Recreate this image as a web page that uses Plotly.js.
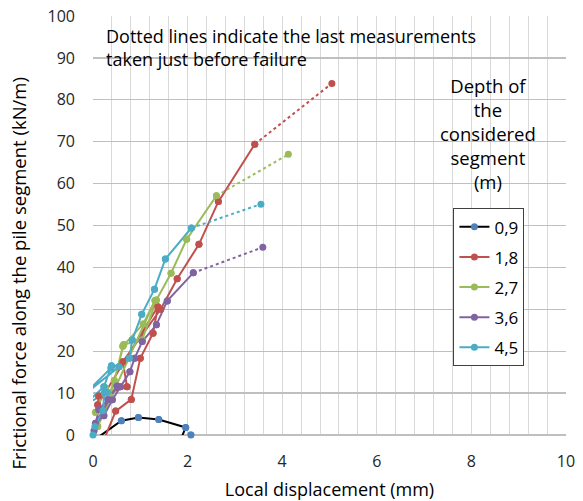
<!DOCTYPE html>
<html>
<head>
<meta charset="utf-8">
<script src="https://cdn.plot.ly/plotly-3.0.1.min.js"></script>
<style>html,body{margin:0;padding:0;background:#fff;}#chart{width:583px;height:501px;}</style>
</head>
<body>
<div id="chart"></div>
<script>
// Depth labels (legend)
const depths = ["0,9", "1,8", "2,7", "3,6", "4,5"];

// Local displacement (mm) / frictional force (kN/m) per depth
const x09 = [0.05, 0.60, 0.96, 1.39, 1.96, 1.82, 2.07];
const y09 = [-1.0, 3.4, 4.2, 3.7, 1.8, -2.0, 0.0];

const x18 = [0.20, 0.48, 0.81, 1.00, 1.27, 1.37, 0.10, 0.12, 0.72, 0.63, 1.43, 1.78, 2.24, 2.65, 3.42, 5.05];
const y18 = [-2.0, 5.7, 8.5, 18.3, 24.3, 30.6, 7.2, 9.3, 11.5, 17.5, 30.0, 37.3, 45.5, 55.7, 69.4, 83.9];

const x27 = [0.05, 0.26, 0.37, 0.63, 1.06, 1.31, 0.10, 0.45, 0.65, 1.04, 1.34, 1.65, 1.98, 2.61, 4.13];
const y27 = [5.4, 11.3, 9.1, 21.2, 26.5, 32.1, 2.0, 13.0, 21.6, 22.7, 32.2, 38.6, 46.7, 57.1, 67.0];

const x36 = [0.02, 0.12, 0.32, 0.51, 0.05, 0.23, 0.41, 0.58, 0.78, 0.88, 1.04, 1.34, 1.57, 2.12, 3.59];
const y36 = [1.0, 6.0, 8.5, 11.7, 2.8, 4.6, 8.4, 11.5, 15.1, 18.3, 22.3, 26.3, 32.0, 38.7, 44.8];

const x45 = [0.00, 0.04, 0.21, 0.24, 0.30, -0.20, 0.23, 0.39, 0.55, -0.20, 0.38, 0.77, 0.83, 1.03, 1.30, 1.53, 2.08, 3.55];
const y45 = [0.0, 2.0, 5.8, 10.0, 10.2, 7.0, 11.5, 16.5, 16.3, 9.5, 16.0, 18.3, 22.7, 28.8, 34.8, 42.0, 49.4, 55.1];

const xs = [x09, x18, x27, x36, x45];
const ys = [y09, y18, y27, y36, y45];
const lineColors = ["#000000", "#C0504D", "#9BBB59", "#8064A2", "#4BACC6"];
const markerColors = ["#4F81BD", "#C0504D", "#9BBB59", "#8064A2", "#4BACC6"];
const dottedLast = [false, true, true, true, true];

const traces = [];
const markerTraces = [];
depths.forEach((name, i) => {
  const x = xs[i], y = ys[i];
  const n = x.length;
  const solidEnd = dottedLast[i] ? n - 1 : n;
  const sx = x.slice(0, solidEnd), sy = y.slice(0, solidEnd);
  traces.push({
    x: sx, y: sy, name: name, type: "scatter", mode: "lines+markers",
    legendgroup: "g" + i,
    line: {color: lineColors[i], width: 2},
    marker: {color: markerColors[i], size: 7, symbol: "circle"}
  });
  if (dottedLast[i]) {
    traces.push({
      x: x.slice(n - 2), y: y.slice(n - 2), name: name, type: "scatter", mode: "lines",
      legendgroup: "g" + i, showlegend: false,
      line: {color: lineColors[i], width: 2, dash: "dot"}
    });
  }
  // markers drawn unclipped for points that lie inside the axes
  const mx = [], my = [];
  x.forEach((v, k) => { if (v >= 0 && y[k] >= 0) { mx.push(v); my.push(y[k]); } });
  markerTraces.push({
    x: mx, y: my, name: name, type: "scatter", mode: "markers",
    legendgroup: "g" + i, showlegend: false, cliponaxis: false,
    marker: {color: markerColors[i], size: 7, symbol: "circle"}
  });
});

const fontFam = "Open Sans, Liberation Sans, sans-serif";
const layout = {
  width: 583, height: 501,
  margin: {l: 92.5, r: 17, t: 16, b: 66},
  paper_bgcolor: "#ffffff", plot_bgcolor: "#ffffff",
  font: {family: fontFam, color: "#262626", size: 15},
  showlegend: true,
  legend: {
    x: 0.762, y: 0.541, xanchor: "left", yanchor: "top",
    bgcolor: "#ffffff", bordercolor: "#404040", borderwidth: 1,
    font: {family: fontFam, size: 17, color: "#000000"},
    tracegroupgap: 5, itemwidth: 30
  },
  xaxis: {
    range: [0, 10], dtick: 2, tick0: 0, showgrid: true,
    gridcolor: "#d9d9d9", gridwidth: 1,
    minor: {dtick: 0.4, showgrid: true, gridcolor: "#d9d9d9", gridwidth: 1},
    zeroline: false, showline: false, ticks: "",
    tickfont: {size: 16, color: "#262626"},
    ticklabelstandoff: 15,
    title: {text: "Local displacement (mm)", font: {size: 18, color: "#000000"}, standoff: 14},
    fixedrange: true
  },
  yaxis: {
    range: [0, 100], dtick: 10, tick0: 0, showgrid: true,
    gridcolor: "#bfbfbf", gridwidth: 1.3,
    zeroline: true, zerolinecolor: "#bfbfbf", zerolinewidth: 1.3,
    showline: false, ticks: "",
    tickfont: {size: 16, color: "#262626"},
    ticklabelstandoff: 17,
    fixedrange: true
  },
  annotations: [
    {
      xref: "paper", yref: "paper", x: 0.024, y: 0.985, xanchor: "left", yanchor: "top",
      align: "left", showarrow: false,
      text: "Dotted lines indicate the last measurements<br>taken just before failure",
      font: {family: fontFam, size: 18, color: "#000000"}
    },
    {
      xref: "paper", yref: "paper", x: 0.835, y: 0.868, xanchor: "center", yanchor: "top",
      align: "center", showarrow: false,
      text: "Depth of<br>the<br>considered<br>segment<br>(m)",
      font: {family: fontFam, size: 18.5, color: "#000000"}
    },
    {
      xref: "paper", yref: "paper", x: -0.157, y: 0.385, xanchor: "center", yanchor: "middle",
      showarrow: false, textangle: -90,
      text: "Frictional force along the pile segment (kN/m)",
      font: {family: fontFam, size: 18.5, color: "#000000"}
    }
  ]
};

Plotly.newPlot("chart", traces.concat(markerTraces), layout, {displayModeBar: false, staticPlot: true});
</script>
</body>
</html>
